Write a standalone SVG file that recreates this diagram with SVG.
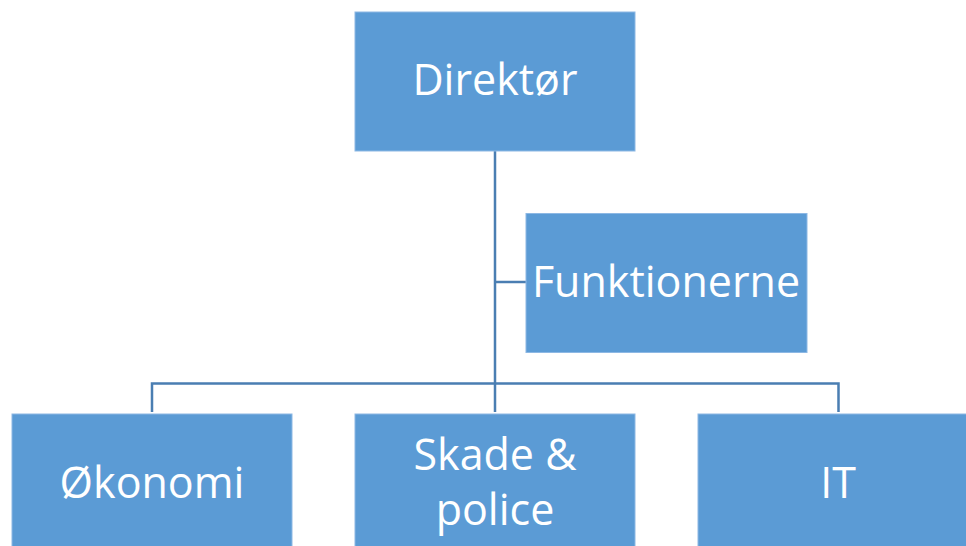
<svg xmlns="http://www.w3.org/2000/svg" width="966" height="546" viewBox="0 0 966 546">
<style>
.box{fill:#5B9BD5;stroke:#8DB8E4;stroke-width:1}
.lbl{fill:#FFFFFF;font-family:"Open Sans","Noto Sans","Liberation Sans",sans-serif;font-size:43px;text-anchor:middle}
.conn{fill:none;stroke:#4A7EB2;stroke-width:2.5}
</style>
<rect width="966" height="546" fill="#FFFFFF"/>
<g id="connectors">
<path class="conn" d="M495 151 V412"/>
<path class="conn" d="M495 282 H526"/>
<path class="conn" d="M152 412 V383.5 H838.5 V412"/>
</g>
<g id="direktor">
<rect class="box" x="355" y="12" width="280" height="139"/>
<text class="lbl" x="495" y="95">Direktør</text>
</g>
<g id="funktionerne">
<rect class="box" x="526" y="213.5" width="281" height="139"/>
<text class="lbl" x="666" y="297">Funktionerne</text>
</g>
<g id="okonomi">
<rect class="box" x="12" y="414" width="280" height="139"/>
<text class="lbl" x="152" y="498">Økonomi</text>
</g>
<g id="skade">
<rect class="box" x="355" y="414" width="280" height="139"/>
<text class="lbl" x="495" y="470">Skade &amp;</text>
<text class="lbl" x="495" y="525">police</text>
</g>
<g id="it">
<rect class="box" x="698" y="414" width="280" height="139"/>
<text class="lbl" x="838" y="498">IT</text>
</g>
</svg>
